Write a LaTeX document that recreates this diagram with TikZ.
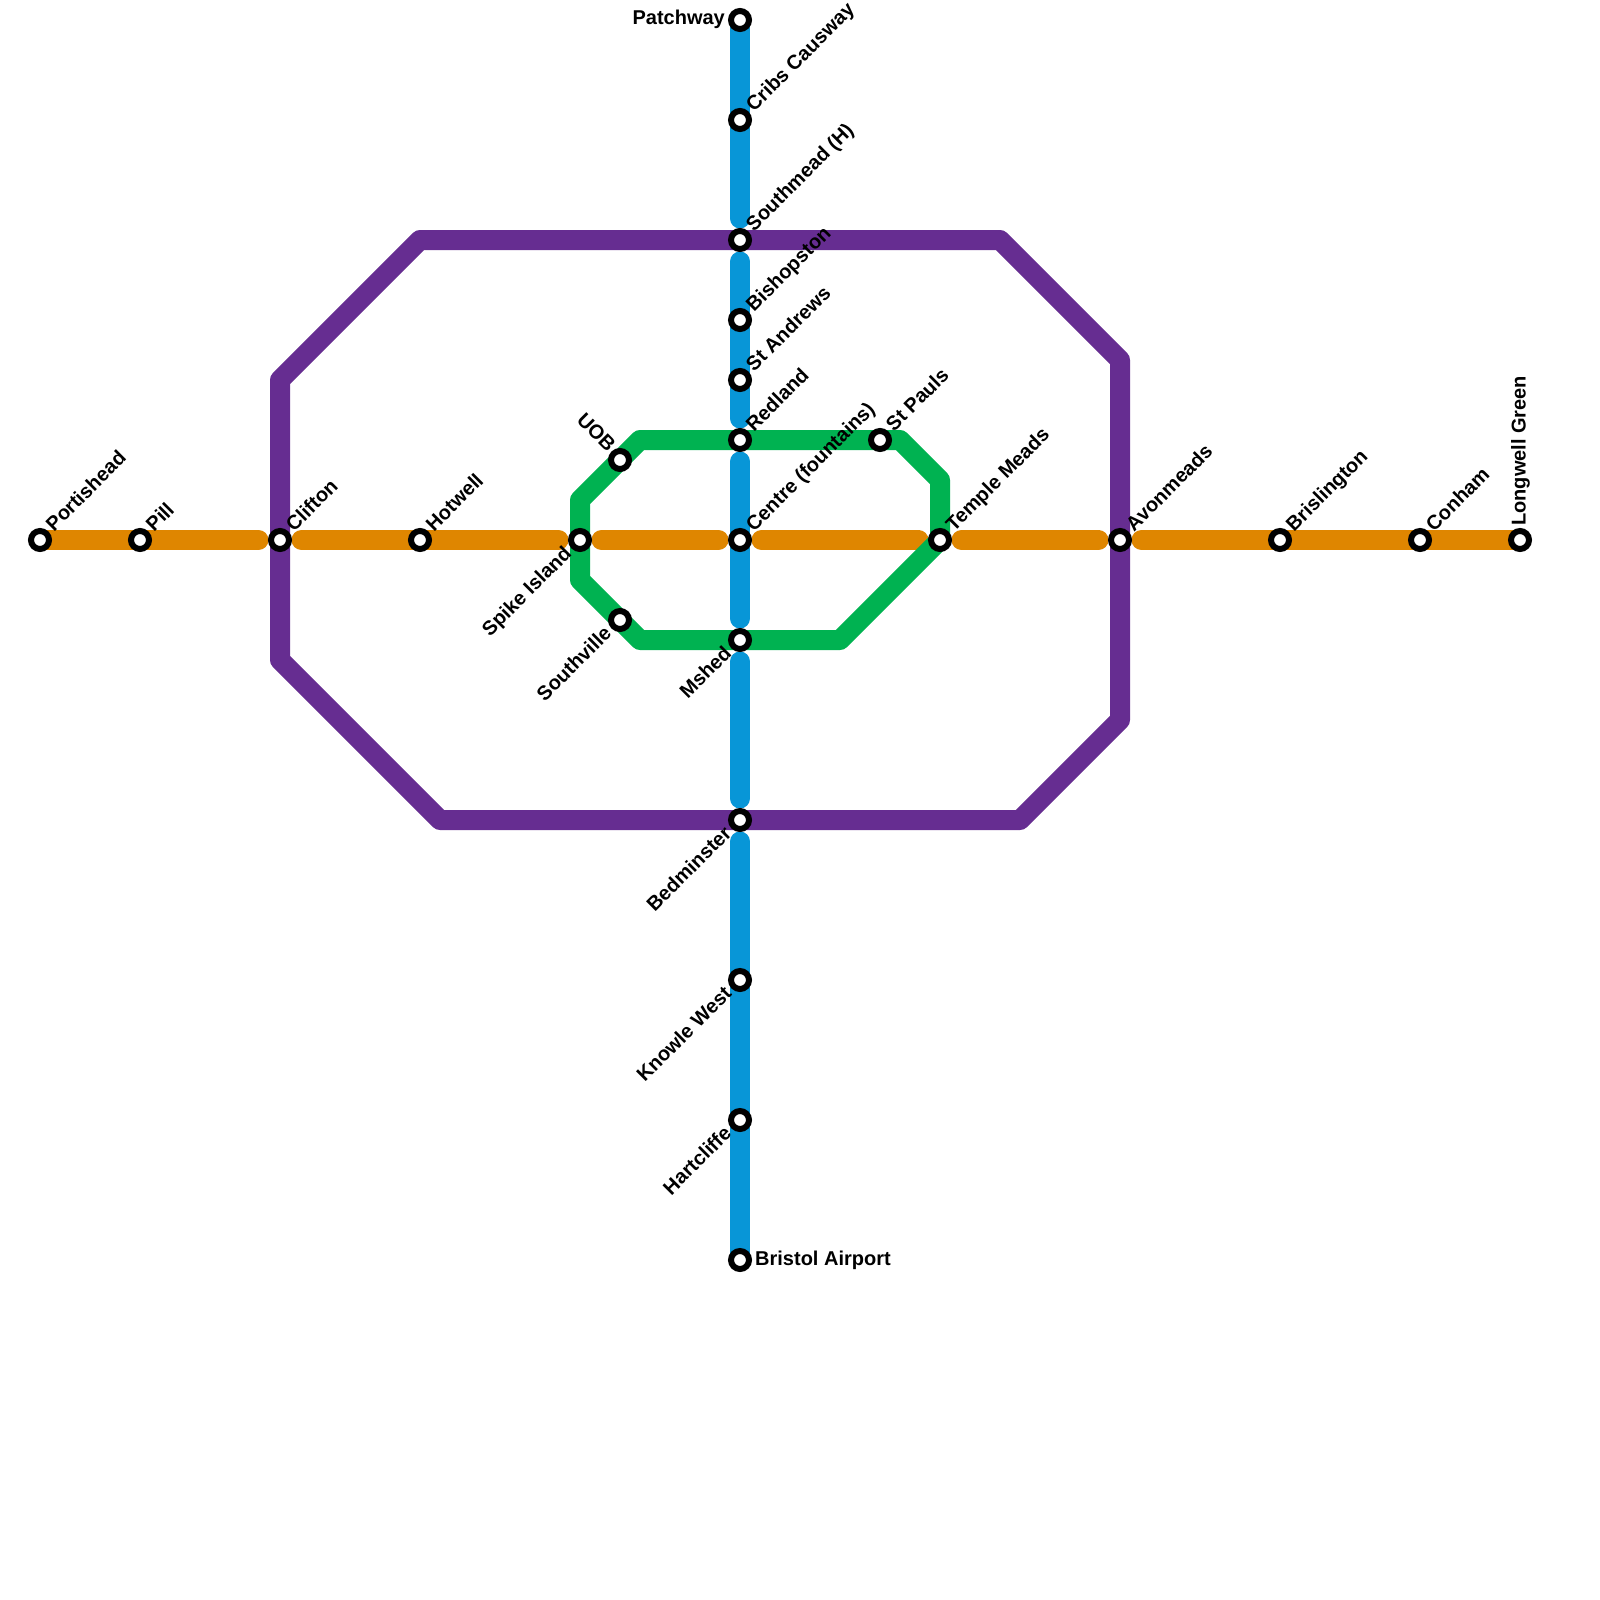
\documentclass[tikz,border=0pt]{standalone}
\usepackage{fontspec}
\setmainfont{Liberation Sans}
\usetikzlibrary{backgrounds}
\definecolor{orangeline}{HTML}{DF8600}
\definecolor{blueline}{HTML}{0896D7}
\definecolor{purpleline}{HTML}{662D91}
\definecolor{greenline}{HTML}{00B251}
\tikzset{
  x=1pt,y=-1pt,
  stationdot/.style={circle,draw=black,fill=white,line width=6pt,minimum size=18pt,inner sep=0pt},
  lbl/.style={font=\fontsize{20}{24}\selectfont\bfseries,inner sep=0pt,text=black},
  lblne/.style={lbl,xshift=14pt,yshift=7.5pt,rotate=45,anchor=base west},
  lblsw/.style={lbl,xshift=-7.3pt,yshift=-14.6pt,rotate=45,anchor=base east},
  lblnw/.style={lbl,xshift=-12.6pt,yshift=7pt,rotate=-45,anchor=base east},
  lblw/.style={lbl,anchor=base east,xshift=-15pt,yshift=-5pt},
  lble/.style={lbl,anchor=base west,xshift=15pt,yshift=-5pt},
  lbln/.style={lbl,xshift=5.5pt,yshift=14pt,rotate=90,anchor=base west},
  metro/.style={line width=20pt,line cap=round,line join=round},
  orangerun/.style={metro,draw=orangeline},
  bluerun/.style={metro,draw=blueline},
  purplerun/.style={metro,draw=purpleline},
  greenrun/.style={metro,draw=greenline},
  gapend/.style={shorten >=21.5pt},
  gapstart/.style={shorten <=21.5pt},
}
\begin{document}
\begin{tikzpicture}
\useasboundingbox (0,0) rectangle (1600,1600);
% stations
\foreach \n/\x/\y in {portishead/40/540,pill/140/540,clifton/280/540,hotwell/420/540,spike/580/540,centre/740/540,temple/940/540,avonmeads/1120/540,brislington/1280/540,conham/1420/540,longwell/1520/540,
  patchway/740/20,cribs/740/120,southmead/740/240,bishopston/740/320,standrews/740/380,redland/740/440,mshed/740/640,bedminster/740/820,knowle/740/980,hartcliffe/740/1120,airport/740/1260,
  uob/620/460,southville/620/620,stpauls/880/440}
  {\node[stationdot] (\n) at (\x,\y) {};}
% labels
\node[lblne] (l1) at (portishead.center) {Portishead};
\node[lblne] (l2) at (pill.center) {Pill};
\node[lblne] (l3) at (clifton.center) {Clifton};
\node[lblne] (l4) at (hotwell.center) {Hotwell};
\node[lblsw] (l5) at (spike.center) {Spike Island};
\node[lblne] (l6) at (centre.center) {Centre (fountains)};
\node[lblne] (l7) at (temple.center) {Temple Meads};
\node[lblne] (l8) at (avonmeads.center) {Avonmeads};
\node[lblne] (l9) at (brislington.center) {Brislington};
\node[lblne] (l10) at (conham.center) {Conham};
\node[lbln] (l11) at (longwell.center) {Longwell Green};
\node[lblw] (l12) at (patchway.center) {Patchway};
\node[lblne] (l13) at (cribs.center) {Cribs Causway};
\node[lblne] (l14) at (southmead.center) {Southmead (H)};
\node[lblne] (l15) at (bishopston.center) {Bishopston};
\node[lblne] (l16) at (standrews.center) {St Andrews};
\node[lblne] (l17) at (redland.center) {Redland};
\node[lblsw] (l18) at (mshed.center) {Mshed};
\node[lblsw] (l19) at (bedminster.center) {Bedminster};
\node[lblsw] (l20) at (knowle.center) {Knowle West};
\node[lblsw] (l21) at (hartcliffe.center) {Hartcliffe};
\node[lble] (l22) at (airport.center) {Bristol Airport};
\node[lblnw] (l23) at (uob.center) {UOB};
\node[lblsw] (l24) at (southville.center) {Southville};
\node[lblne] (l25) at (stpauls.center) {St Pauls};
% bends
\coordinate (p1) at (280,380);
\coordinate (p2) at (420,240);
\coordinate (p3) at (1000,240);
\coordinate (p4) at (1120,360);
\coordinate (p5) at (1120,720);
\coordinate (p6) at (1020,820);
\coordinate (p7) at (440,820);
\coordinate (p8) at (280,660);
\coordinate (g1) at (580,500);
\coordinate (g2) at (640,440);
\coordinate (g3) at (900,440);
\coordinate (g4) at (940,480);
\coordinate (g5) at (840,640);
\coordinate (g6) at (640,640);
\coordinate (g7) at (580,580);
\begin{pgfonlayer}{background}
% orange
\draw[orangerun,gapend] (portishead.center) -- (clifton.center);
\draw[orangerun,gapstart,gapend] (clifton.center) -- (spike.center);
\draw[orangerun,gapstart,gapend] (spike.center) -- (centre.center);
\draw[orangerun,gapstart,gapend] (centre.center) -- (temple.center);
\draw[orangerun,gapstart,gapend] (temple.center) -- (avonmeads.center);
\draw[orangerun,gapstart] (avonmeads.center) -- (longwell.center);
% blue
\draw[bluerun,gapend] (patchway.center) -- (southmead.center);
\draw[bluerun,gapstart,gapend] (southmead.center) -- (redland.center);
\draw[bluerun,gapstart,gapend] (redland.center) -- (mshed.center);
\draw[bluerun,gapstart,gapend] (mshed.center) -- (bedminster.center);
\draw[bluerun,gapstart] (bedminster.center) -- (airport.center);
% purple
\draw[purplerun] (p1) -- (p2) -- (southmead.center) -- (p3) -- (p4) -- (avonmeads.center) -- (p5) -- (p6) -- (bedminster.center) -- (p7) -- (p8) -- (clifton.center) -- cycle;
% green
\draw[greenrun] (g1) -- (uob.center) -- (g2) -- (redland.center) -- (stpauls.center) -- (g3) -- (g4) -- (temple.center) -- (g5) -- (mshed.center) -- (g6) -- (southville.center) -- (g7) -- (spike.center) -- cycle;
\end{pgfonlayer}
\end{tikzpicture}
\end{document}
